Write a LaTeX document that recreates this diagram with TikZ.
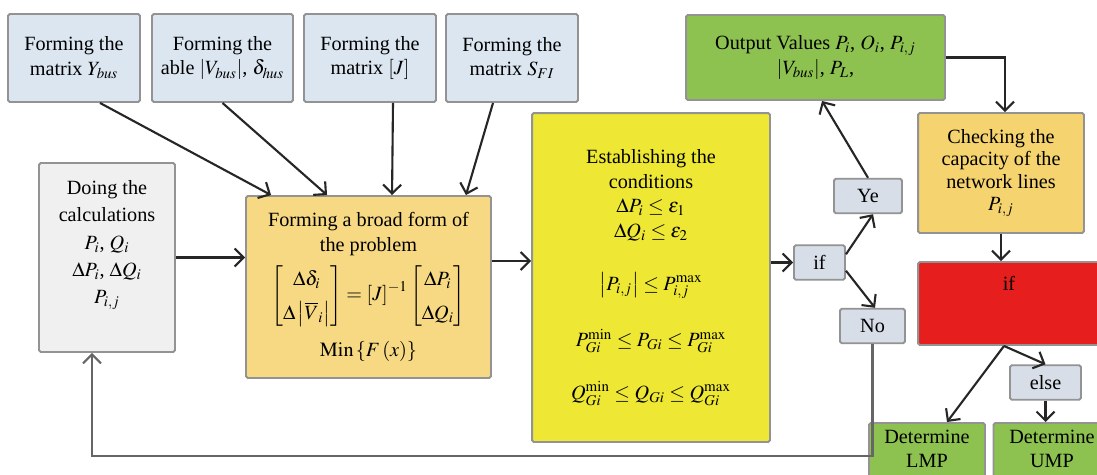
\documentclass[tikz,border=0pt]{standalone}
\usepackage{amsmath}
\usepackage{mathptmx}
\usepackage{fontspec}
\setmainfont{Liberation Serif}
\usetikzlibrary{arrows.meta,positioning}
\definecolor{inputblue}{RGB}{220,230,241}
\definecolor{calcgray}{RGB}{240,240,240}
\definecolor{formorange}{RGB}{246,217,130}
\definecolor{condyellow}{RGB}{238,232,52}
\definecolor{outgreen}{RGB}{141,194,80}
\definecolor{checkorange}{RGB}{245,211,110}
\definecolor{ifred}{RGB}{230,30,30}
\definecolor{decgray}{RGB}{215,222,232}
\tikzset{
      stepbox/.style={
        draw=gray!85,
        line width=1.1pt,
        rounded corners=1pt,
        align=center,
        inner sep=2pt
      },
      inputbox/.style={stepbox, fill=inputblue, minimum width=2.64cm, minimum height=1.76cm},
      decbox/.style={stepbox, fill=decgray, minimum height=0.69cm},
      greenbox/.style={stepbox, fill=outgreen, anchor=north, inner ysep=4pt},
      flow/.style={-{Straight Barb[length=1.8mm,width=3.6mm]}, line width=1.2pt, draw=black!85}
    }

\begin{document}
\begin{tikzpicture}[x=0.02cm,y=-0.02cm,font=\fontsize{11.5}{14}\selectfont]
    \path[use as bounding box, fill=white] (0,0) rectangle (1097,474);
    % inputs
    \node[inputbox] (ybus) at (74,58) {Forming the\\matrix $Y_{bus}$};
    \node[inputbox, minimum width=2.82cm] (vbus) at (222.5,58) {Forming the\\able $|V_{bus}|$, $\delta_{hus}$};
    \node[inputbox] (jac) at (370,58) {Forming the\\matrix $[J]$};
    \node[inputbox] (sfi) at (512,58) {Forming the\\matrix $S_{FI}$};
    % main chain
    \node[stepbox, fill=calcgray, minimum width=2.72cm, minimum height=3.78cm, font=\fontsize{11.5}{15.5}\selectfont] (calc) at (107,257.5)
      {Doing the\\calculations\\$P_i$, $Q_i$\\$\Delta P_i$, $\Delta Q_i$\\$P_{i,j}$\\[2pt]};
    \node[stepbox, fill=formorange, minimum width=4.9cm, minimum height=3.64cm] (broad) at (368.5,287)
      {Forming a broad form of\\the problem\\[3pt]
       $\renewcommand{\arraystretch}{1.35}\left[\begin{array}{@{}c@{}}\Delta\delta_i\\ \Delta\left|\overline{V}_i\right|\end{array}\right]
        =\left[J\right]^{-1}\left[\begin{array}{@{}c@{}}\Delta P_i\\ \Delta Q_i\end{array}\right]$\\[6pt]
       $\mathrm{Min}\left\{F\left(x\right)\right\}$};
    \node[stepbox, fill=condyellow, minimum width=4.76cm, minimum height=6.58cm] (cond) at (651,277.5)
      {Establishing the\\conditions\\$\Delta P_i\le\varepsilon_1$\\$\Delta Q_i\le\varepsilon_2$\\[16pt]
       $\left|P_{i,j}\right|\le P_{i,j}^{\max}$\\[16pt]
       $P_{Gi}^{\min}\le P_{Gi}\le P_{Gi}^{\max}$\\[16pt]
       $Q_{Gi}^{\min}\le Q_{Gi}\le Q_{Gi}^{\max}$};
    % decision
    \node[decbox, minimum width=1.02cm] (test) at (819.5,262.5) {if};
    \node[decbox, minimum width=1.36cm] (yes) at (868,196) {Ye};
    \node[decbox, minimum width=1.3cm] (no) at (872.5,326) {No};
    \node[stepbox, fill=outgreen, minimum width=5.18cm, minimum height=1.7cm] (out) at (815.5,57.5)
      {Output Values $P_i$, $O_i$, $P_{i,j}$\\$|V_{bus}|$, $P_L$,};
    \node[stepbox, fill=checkorange, minimum width=3.32cm, minimum height=2.4cm, font=\fontsize{11.5}{12.8}\selectfont] (check) at (1001,173)
      {Checking the\\capacity of the\\network lines\\$P_{i,j}$};
    \node[stepbox, fill=ifred, minimum width=3.64cm, text height=0.26cm, text depth=0.8cm, inner ysep=0.3cm] (limit) at (1009,303.5) {if};
    \node[decbox, minimum width=1.42cm] (other) at (1045.5,382.5) {else};
    \node[greenbox, minimum width=2.32cm] (lmp) at (927,422) {Determine\\LMP\\[10pt]};
    \node[greenbox, minimum width=2.34cm] (ump) at (1052,422) {Determine\\UMP\\[10pt]};

    \draw[flow] ([xshift=0.52cm]ybus.south) -- ([xshift=0.52cm]broad.north west);
    \draw[flow] (vbus.south) -- ([xshift=1.64cm]broad.north west);
    \draw[flow] ([xshift=0.46cm]jac.south) -- ([xshift=2.94cm]broad.north west);
    \draw[flow] ([xshift=-0.38cm]sfi.south) -- ([xshift=-0.52cm]broad.north east);
    \draw[flow] (calc.east) -- (calc.east -| broad.west);
    \draw[flow] ([yshift=0.52cm]broad.east) -- ([yshift=0.52cm]broad.east -| cond.west);
    \draw[flow] (test.west -| cond.east) -- (test.west);
    \draw[flow] ([yshift=-0.2cm]test.north east) -- ([xshift=0.1cm]yes.south);
    \draw[flow] ([yshift=0.2cm]test.south east) -- ([xshift=0.05cm]no.north);
    \draw[flow] (yes.north) -- ([xshift=0.13cm]out.south);
    \draw[flow, draw=black!60] (no.south) -- ++(0,112) -| ([xshift=-0.3cm]calc.south);
    \draw[flow] (out.east) -| ([xshift=0.08cm]check.north);
    \draw[flow] (check.south) -- (check.south |- limit.north);
    \draw[flow] ([xshift=-0.1cm]limit.south) -- ([xshift=0.4cm]lmp.north);
    \draw[flow] ([xshift=-0.1cm]limit.south) -- (other.north);
    \draw[flow] (other.south) -- (other.south |- ump.north);
    \end{tikzpicture}
\end{document}
